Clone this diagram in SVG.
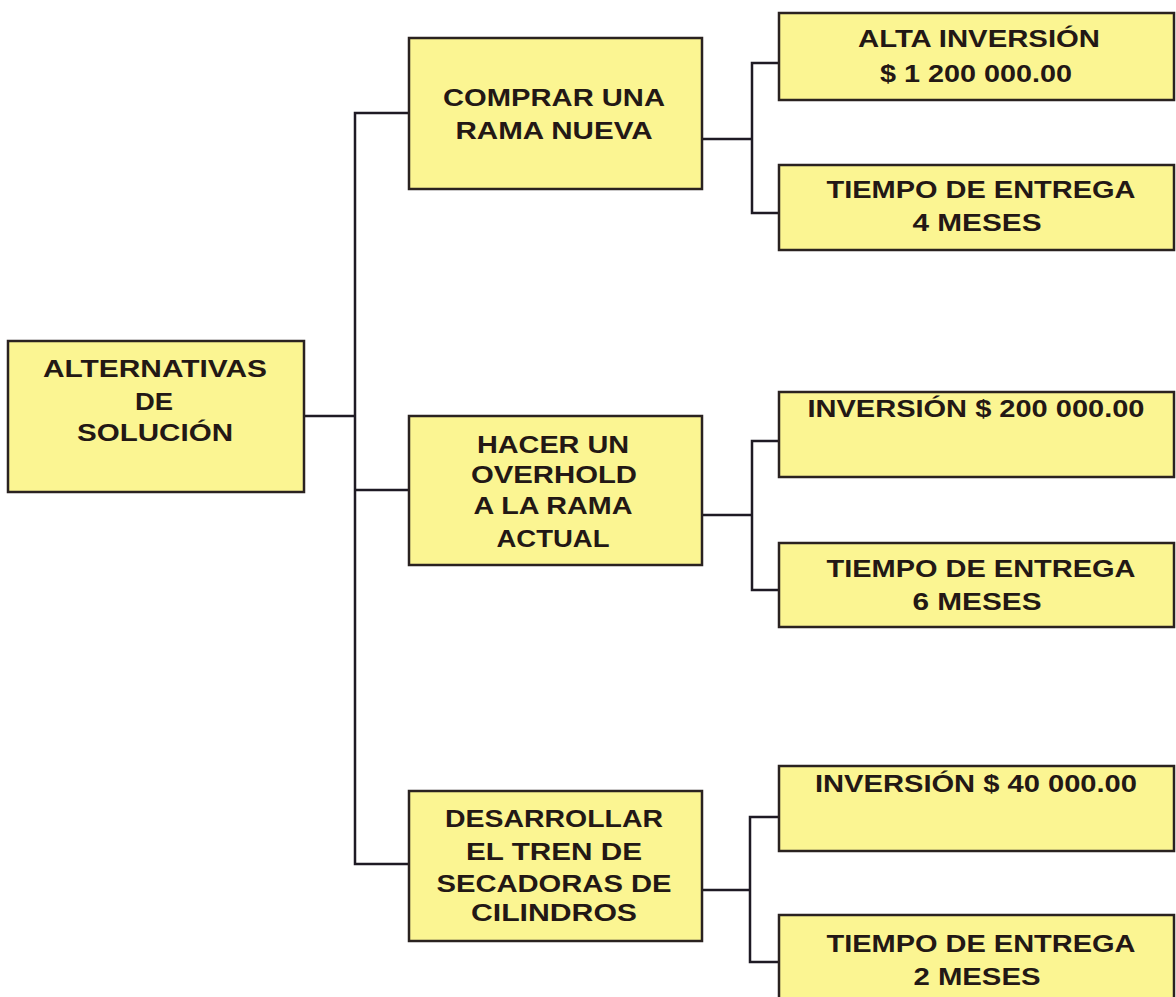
<svg xmlns="http://www.w3.org/2000/svg" width="1176" height="997" viewBox="0 0 1176 997">
<style>
.box{fill:#FBF592;stroke:#2a2220;stroke-width:2.5}
.t{font-family:"Liberation Sans",Arial,sans-serif;font-weight:bold;font-size:24px;fill:#231815;text-anchor:middle}
.c{fill:none;stroke:#1e1a24;stroke-width:2.5}
</style>
<rect width="1176" height="997" fill="#ffffff"/>
<g id="connectors">
<path class="c" d="M304,416 H355"/>
<path class="c" d="M409,113 H355 V864 H409"/>
<path class="c" d="M355,490 H409"/>
<path class="c" d="M702,139 H752"/>
<path class="c" d="M779,63 H752 V213 H779"/>
<path class="c" d="M702,515 H752"/>
<path class="c" d="M779,441 H752 V590 H779"/>
<path class="c" d="M702,890 H750"/>
<path class="c" d="M779,817 H750 V962 H779"/>
</g>
<g id="root">
<rect class="box" x="8" y="341" width="296" height="151"/>
<text class="t" x="155" y="377" textLength="224" lengthAdjust="spacingAndGlyphs">ALTERNATIVAS</text>
<text class="t" x="154" y="410" textLength="38" lengthAdjust="spacingAndGlyphs">DE</text>
<text class="t" x="155" y="441" textLength="156" lengthAdjust="spacingAndGlyphs">SOLUCIÓN</text>
</g>
<g id="comprar">
<rect class="box" x="409" y="38" width="293" height="151"/>
<text class="t" x="554" y="106" textLength="222" lengthAdjust="spacingAndGlyphs">COMPRAR UNA</text>
<text class="t" x="554" y="139" textLength="197" lengthAdjust="spacingAndGlyphs">RAMA NUEVA</text>
</g>
<g id="overhold">
<rect class="box" x="409" y="416" width="293" height="149"/>
<text class="t" x="553" y="453" textLength="152" lengthAdjust="spacingAndGlyphs">HACER UN</text>
<text class="t" x="554" y="483" textLength="166" lengthAdjust="spacingAndGlyphs">OVERHOLD</text>
<text class="t" x="553" y="514" textLength="159" lengthAdjust="spacingAndGlyphs">A LA RAMA</text>
<text class="t" x="553" y="547" textLength="113" lengthAdjust="spacingAndGlyphs">ACTUAL</text>
</g>
<g id="desarrollar">
<rect class="box" x="409" y="791" width="293" height="150"/>
<text class="t" x="554" y="827" textLength="218" lengthAdjust="spacingAndGlyphs">DESARROLLAR</text>
<text class="t" x="554" y="860" textLength="176" lengthAdjust="spacingAndGlyphs">EL TREN DE</text>
<text class="t" x="554" y="892" textLength="235" lengthAdjust="spacingAndGlyphs">SECADORAS DE</text>
<text class="t" x="554" y="921" textLength="166" lengthAdjust="spacingAndGlyphs">CILINDROS</text>
</g>
<g id="alta-inversion">
<rect class="box" x="779" y="13" width="395" height="87"/>
<text class="t" x="979" y="47" textLength="242" lengthAdjust="spacingAndGlyphs">ALTA INVERSIÓN</text>
<text class="t" x="976" y="82" textLength="192" lengthAdjust="spacingAndGlyphs">$ 1 200 000.00</text>
</g>
<g id="tiempo-4">
<rect class="box" x="779" y="165" width="395" height="85"/>
<text class="t" x="981" y="198" textLength="309" lengthAdjust="spacingAndGlyphs">TIEMPO DE ENTREGA</text>
<text class="t" x="977" y="231" textLength="129" lengthAdjust="spacingAndGlyphs">4 MESES</text>
</g>
<g id="inversion-200">
<rect class="box" x="779" y="392" width="395" height="85"/>
<text class="t" x="976" y="417" textLength="337" lengthAdjust="spacingAndGlyphs">INVERSIÓN $ 200 000.00</text>
</g>
<g id="tiempo-6">
<rect class="box" x="779" y="543" width="395" height="84"/>
<text class="t" x="981" y="577" textLength="309" lengthAdjust="spacingAndGlyphs">TIEMPO DE ENTREGA</text>
<text class="t" x="977" y="610" textLength="129" lengthAdjust="spacingAndGlyphs">6 MESES</text>
</g>
<g id="inversion-40">
<rect class="box" x="779" y="766" width="395" height="85"/>
<text class="t" x="976" y="792" textLength="322" lengthAdjust="spacingAndGlyphs">INVERSIÓN $ 40 000.00</text>
</g>
<g id="tiempo-2">
<rect class="box" x="779" y="915" width="395" height="90"/>
<text class="t" x="981" y="952" textLength="309" lengthAdjust="spacingAndGlyphs">TIEMPO DE ENTREGA</text>
<text class="t" x="977" y="985" textLength="127" lengthAdjust="spacingAndGlyphs">2 MESES</text>
</g>
</svg>
